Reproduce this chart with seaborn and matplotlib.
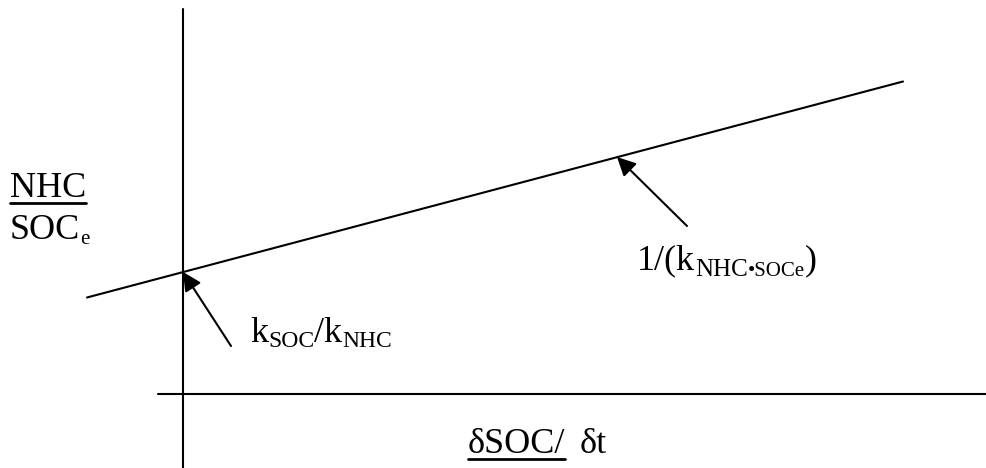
import matplotlib
matplotlib.use("Agg")
import matplotlib.pyplot as plt
import seaborn as sns
from matplotlib.transforms import offset_copy

# schematic values, origin where the two axes cross
line_x = [-0.96, 7.20]
line_y = [0.965, 3.125]
yaxis_top = 3.85
xaxis_left = -0.25
x_lim = (-1.83, 8.04)
y_lim = (-0.74, 3.94)

# arrows: (tip, tail)
slope_arrow = ((4.34, 2.37), (5.04, 1.68))
icpt_arrow = ((0.0, 1.22), (0.48, 0.48))

sns.set_style("white")
plt.rcParams["font.family"] = ["Liberation Serif", "DejaVu Serif"]

fig = plt.figure(figsize=(9.87, 4.68), dpi=100)
ax = fig.add_axes([0, 0, 1, 1])
ax.set_xlim(x_lim)
ax.set_ylim(y_lim)
ax.axis("off")

lw = 1.5
sns.lineplot(x=line_x, y=line_y, color="black", lw=lw, ax=ax)
ax.plot([0, 0], [y_lim[0], yaxis_top], color="black", lw=lw)
ax.plot([xaxis_left, x_lim[1]], [0, 0], color="black", lw=lw)

for tip, tail in [slope_arrow, icpt_arrow]:
    ax.annotate("", xy=tip, xytext=tail,
                arrowprops=dict(arrowstyle="-|>", color="black", lw=lw,
                                mutation_scale=28, shrinkA=0, shrinkB=0))

renderer = fig.canvas.get_renderer()


def rich(x, y, parts, underline=0):
    # parts: (text, fontsize, baseline shift px, gap after px)
    dx = 0
    boxes = []
    for s, size, dy, gap in parts:
        tr = offset_copy(ax.transData, fig=fig, x=dx, y=dy, units="dots")
        t = ax.text(x, y, s, fontsize=size, transform=tr,
                    ha="left", va="baseline", color="black")
        bb = t.get_window_extent(renderer)
        boxes.append(bb)
        dx += bb.width + gap
    if underline:
        x0 = boxes[0].x0
        x1 = boxes[underline - 1].x1
        inv = ax.transData.inverted()
        base = ax.transData.transform((x, y))[1] - 6
        (ux0, uy), (ux1, _) = inv.transform([(x0, base), (x1, base)])
        ax.plot([ux0, ux1], [uy, uy], color="black", lw=2)


main = 26
sub = 17

rich(-1.73, 1.97, [("NHC", main, 0, 0)], underline=1)
rich(-1.73, 1.55, [("SOC", main, 0, 0), ("e", 15, -5, 0)])
rich(4.54, 1.25, [("1/(k", main, 0, 0), ("NHC", 18, -7, 0),
                  ("•SOCe", 15, -7, 0), (")", main, 0, 0)])
rich(0.67, 0.52, [("k", main, 0, 0), ("SOC", sub, -5, 0),
                  ("/k", main, 0, 0), ("NHC", sub, -5, 0)])
rich(2.85, -0.59, [("δSOC/", main, 0, 14), ("δt", main, 0, 0)], underline=1)

fig.savefig("out.png", dpi=100)
